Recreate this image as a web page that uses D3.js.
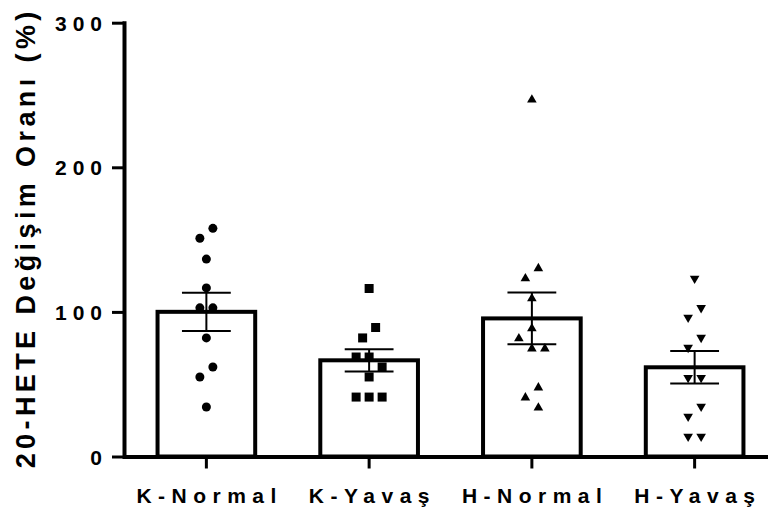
<!DOCTYPE html>
<html>
<head>
<meta charset="utf-8">
<script src="https://cdn.jsdelivr.net/npm/d3@7"></script>
<style>
  html, body { margin: 0; padding: 0; background: #fff; }
  svg { display: block; }
  text { font-family: "Liberation Sans", Arial, sans-serif; font-weight: bold; fill: #000; }
</style>
</head>
<body>
<svg id="chart" width="768" height="513"></svg>
<script>
// Groups and individual measurements (% change of 20-HETE)
const categories = ["K-Normal", "K-Yavaş", "H-Normal", "H-Yavaş"];
const kNormal = [157.8, 150.9, 136.5, 116.6, 102.8, 102.8, 82.0, 61.9, 55.0, 34.2];
const kYavas  = [116.2, 89.2, 82.0, 68.8, 68.8, 61.9, 55.0, 41.1, 41.1, 41.1];
const hNormal = [246.7, 130.1, 123.1, 109.3, 88.5, 81.6, 74.6, 74.6, 47.6, 40.7, 33.7];
const hYavas  = [123.1, 102.8, 96.1, 82.2, 75.3, 54.5, 54.5, 34.6, 27.7, 13.9, 13.9];
const yTicks = [0, 100, 200, 300];
const yTitle = "20-HETE Değişim Oranı (%)";

const groupValues = [kNormal, kYavas, hNormal, hYavas];
const markers = ["circle", "square", "triangleUp", "triangleDown"];

const svg = d3.select("#chart");

const x = d3.scaleBand()
  .domain(categories)
  .range([125, 776])
  .paddingInner(0.4)
  .paddingOuter(0.2);

const y = d3.scaleLinear()
  .domain([0, 300])
  .range([456.5, 22.7]);

// Summary statistics: mean and standard error of the mean
const groups = categories.map((name, i) => {
  const vals = groupValues[i];
  const mean = d3.mean(vals);
  const sem = d3.deviation(vals) / Math.sqrt(vals.length);
  return { name, vals, mean, sem, marker: markers[i] };
});

// Simple column-scatter layout: points closer than `thresh` pixels vertically
// are chained together and spread across horizontal slots of width `step`.
function scatterLayout(values, thresh, step) {
  const pts = values.map(v => ({ v, py: y(v) })).sort((a, b) => a.py - b.py);
  const chains = [];
  let cur = [];
  pts.forEach((p, i) => {
    if (i > 0 && p.py - pts[i - 1].py >= thresh) { chains.push(cur); cur = []; }
    cur.push(p);
  });
  chains.push(cur);
  chains.forEach(ch => {
    const placed = [];
    ch.forEach(p => {
      for (const c of [0, -1, 1, -2, 2, -3, 3]) {
        if (!placed.some(q => q.slot === c && Math.abs(q.py - p.py) < thresh)) { p.slot = c; break; }
      }
      placed.push(p);
    });
    const lo = d3.min(ch, p => p.slot), hi = d3.max(ch, p => p.slot);
    ch.forEach(p => { p.dx = (p.slot - (lo + hi) / 2) * step; });
  });
  return pts;
}

// Bars
svg.append("g").selectAll("rect")
  .data(groups)
  .join("rect")
  .attr("x", d => x(d.name))
  .attr("y", d => y(d.mean))
  .attr("width", x.bandwidth())
  .attr("height", d => y(0) - y(d.mean))
  .attr("fill", "#fff")
  .attr("stroke", "#000")
  .attr("stroke-width", 4);

// Individual points
const symbolFor = {
  circle: d3.symbol().type(d3.symbolCircle).size(Math.PI * 4.5 * 4.5),
  square: d3.symbol().type(d3.symbolSquare).size(81),
  triangleUp: d3.symbol().type(d3.symbolTriangle).size(40),
  triangleDown: d3.symbol().type(d3.symbolTriangle).size(40)
};

groups.forEach(g => {
  const cx = x(g.name) + x.bandwidth() / 2;
  const pts = scatterLayout(g.vals, 14, 13);
  svg.append("g").selectAll("path")
    .data(pts)
    .join("path")
    .attr("d", symbolFor[g.marker]())
    .attr("transform", p => `translate(${cx + p.dx},${p.py})` + (g.marker === "triangleDown" ? " rotate(180)" : ""))
    .attr("fill", "#000");
});

// Error bars (mean ± SEM)
const eb = svg.append("g").attr("stroke", "#000").attr("stroke-width", 2);
groups.forEach(g => {
  const cx = x(g.name) + x.bandwidth() / 2;
  const half = x.bandwidth() / 4;
  eb.append("line").attr("x1", cx).attr("x2", cx).attr("y1", y(g.mean + g.sem)).attr("y2", y(g.mean - g.sem));
  eb.append("line").attr("x1", cx - half).attr("x2", cx + half).attr("y1", y(g.mean + g.sem)).attr("y2", y(g.mean + g.sem));
  eb.append("line").attr("x1", cx - half).attr("x2", cx + half).attr("y1", y(g.mean - g.sem)).attr("y2", y(g.mean - g.sem));
});

// Y axis
const yAxis = svg.append("g")
  .attr("transform", "translate(124,0)")
  .call(d3.axisLeft(y).tickValues(yTicks).tickSize(12).tickPadding(10).tickSizeOuter(0));
yAxis.select(".domain").attr("stroke", "#000").attr("stroke-width", 4).attr("stroke-linecap", "square");
yAxis.selectAll(".tick line").attr("stroke", "#000").attr("stroke-width", 3);
yAxis.selectAll(".tick text")
  .attr("font-size", 21)
  .attr("font-family", null)
  .style("letter-spacing", "6px")
  .attr("dx", "6px")
  .attr("dy", "0.36em");

// X axis
const xAxis = svg.append("g")
  .attr("transform", `translate(0,${y(0)})`)
  .call(d3.axisBottom(x).tickSize(12).tickPadding(20).tickSizeOuter(0));
xAxis.select(".domain").attr("stroke", "#000").attr("stroke-width", 4);
xAxis.selectAll(".tick line").attr("stroke", "#000").attr("stroke-width", 3);
xAxis.selectAll(".tick text")
  .attr("font-size", 21)
  .attr("font-family", null)
  .style("letter-spacing", "6.5px")
  .attr("dx", "3.25px")
  .attr("dy", "0.71em");

// Y axis title
svg.append("text")
  .attr("transform", "translate(35,240) rotate(-90)")
  .attr("text-anchor", "middle")
  .attr("font-size", 27)
  .style("letter-spacing", "4.4px")
  .attr("dx", "2.2px")
  .text(yTitle);
</script>
</body>
</html>
